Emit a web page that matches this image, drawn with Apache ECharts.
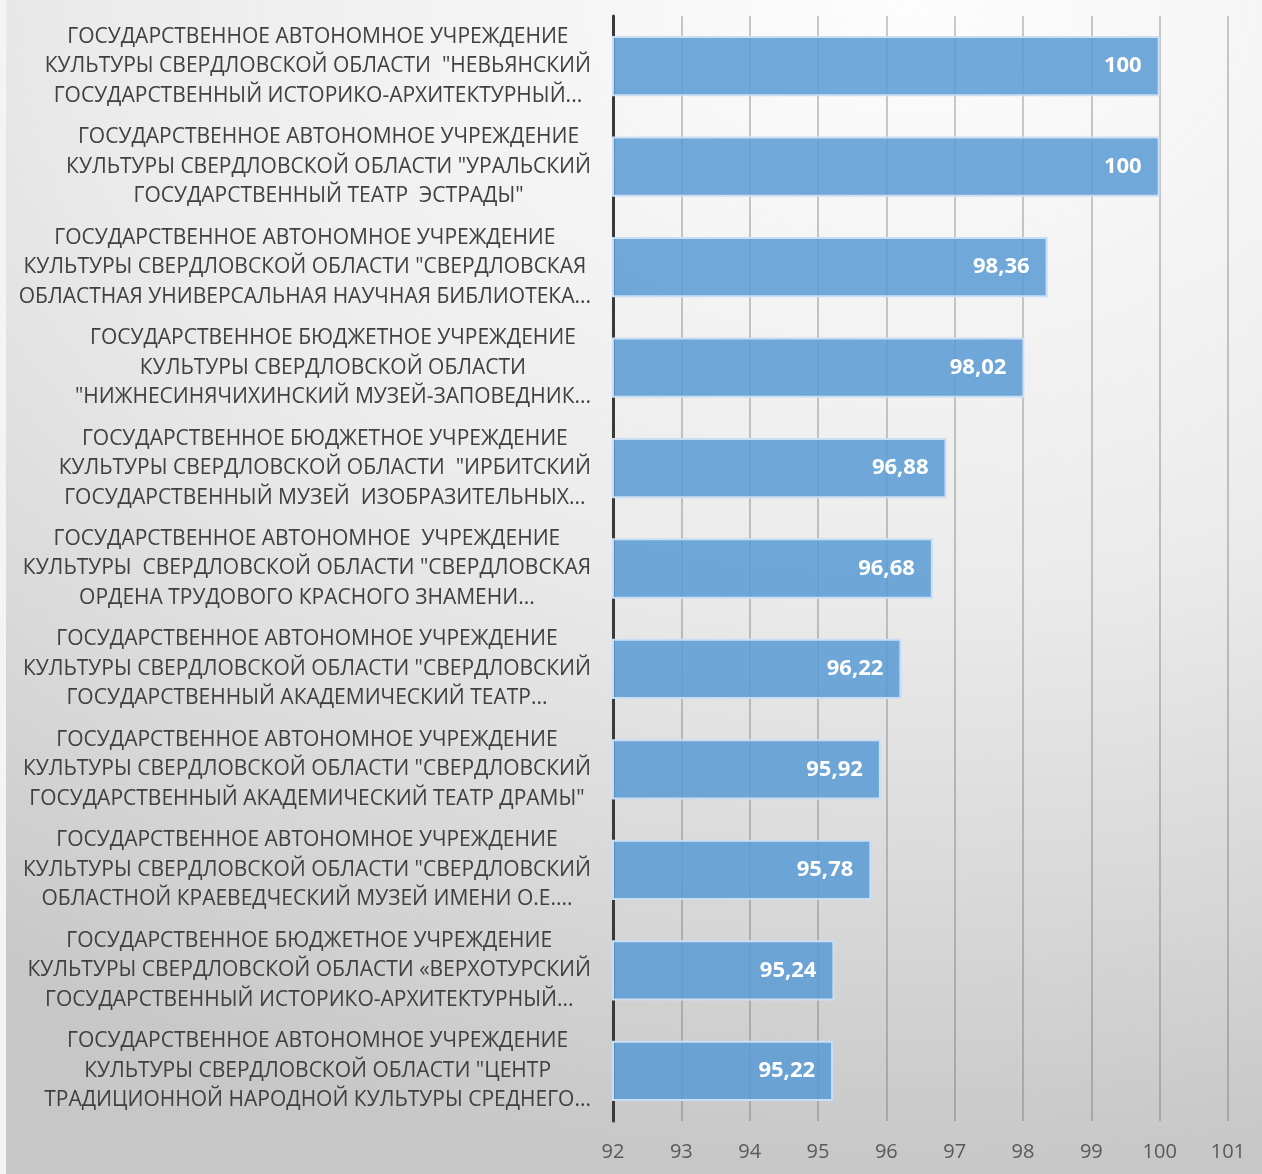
<!DOCTYPE html>
<html><head><meta charset="utf-8">
<script src="https://cdn.jsdelivr.net/npm/echarts@6/dist/echarts.min.js"></script>
<style>
html,body{margin:0;padding:0;background:#f4f4f4;}
#chart{position:absolute;left:6px;top:0;width:1256px;height:1174px;
background:radial-gradient(ellipse 130% 100% at 72% 0%, #fdfdfd 0%, #ebebeb 50%, #d6d6d6 80%, #c7c7c7 100%);}
</style></head>
<body><div id="chart"></div>
<script>
const categories = [
 'ГОСУДАРСТВЕННОЕ АВТОНОМНОЕ УЧРЕЖДЕНИЕ\nКУЛЬТУРЫ СВЕРДЛОВСКОЙ ОБЛАСТИ  "НЕВЬЯНСКИЙ\nГОСУДАРСТВЕННЫЙ ИСТОРИКО-АРХИТЕКТУРНЫЙ...',
 'ГОСУДАРСТВЕННОЕ АВТОНОМНОЕ УЧРЕЖДЕНИЕ\nКУЛЬТУРЫ СВЕРДЛОВСКОЙ ОБЛАСТИ "УРАЛЬСКИЙ\nГОСУДАРСТВЕННЫЙ ТЕАТР  ЭСТРАДЫ"',
 'ГОСУДАРСТВЕННОЕ АВТОНОМНОЕ УЧРЕЖДЕНИЕ\nКУЛЬТУРЫ СВЕРДЛОВСКОЙ ОБЛАСТИ "СВЕРДЛОВСКАЯ\nОБЛАСТНАЯ УНИВЕРСАЛЬНАЯ НАУЧНАЯ БИБЛИОТЕКА...',
 'ГОСУДАРСТВЕННОЕ БЮДЖЕТНОЕ УЧРЕЖДЕНИЕ\nКУЛЬТУРЫ СВЕРДЛОВСКОЙ ОБЛАСТИ\n"НИЖНЕСИНЯЧИХИНСКИЙ МУЗЕЙ-ЗАПОВЕДНИК...',
 'ГОСУДАРСТВЕННОЕ БЮДЖЕТНОЕ УЧРЕЖДЕНИЕ\nКУЛЬТУРЫ СВЕРДЛОВСКОЙ ОБЛАСТИ  "ИРБИТСКИЙ\nГОСУДАРСТВЕННЫЙ МУЗЕЙ  ИЗОБРАЗИТЕЛЬНЫХ...',
 'ГОСУДАРСТВЕННОЕ АВТОНОМНОЕ  УЧРЕЖДЕНИЕ\nКУЛЬТУРЫ  СВЕРДЛОВСКОЙ ОБЛАСТИ "СВЕРДЛОВСКАЯ\nОРДЕНА ТРУДОВОГО КРАСНОГО ЗНАМЕНИ...',
 'ГОСУДАРСТВЕННОЕ АВТОНОМНОЕ УЧРЕЖДЕНИЕ\nКУЛЬТУРЫ СВЕРДЛОВСКОЙ ОБЛАСТИ "СВЕРДЛОВСКИЙ\nГОСУДАРСТВЕННЫЙ АКАДЕМИЧЕСКИЙ ТЕАТР...',
 'ГОСУДАРСТВЕННОЕ АВТОНОМНОЕ УЧРЕЖДЕНИЕ\nКУЛЬТУРЫ СВЕРДЛОВСКОЙ ОБЛАСТИ "СВЕРДЛОВСКИЙ\nГОСУДАРСТВЕННЫЙ АКАДЕМИЧЕСКИЙ ТЕАТР ДРАМЫ"',
 'ГОСУДАРСТВЕННОЕ АВТОНОМНОЕ УЧРЕЖДЕНИЕ\nКУЛЬТУРЫ СВЕРДЛОВСКОЙ ОБЛАСТИ "СВЕРДЛОВСКИЙ\nОБЛАСТНОЙ КРАЕВЕДЧЕСКИЙ МУЗЕЙ ИМЕНИ О.Е....',
 'ГОСУДАРСТВЕННОЕ БЮДЖЕТНОЕ УЧРЕЖДЕНИЕ\nКУЛЬТУРЫ СВЕРДЛОВСКОЙ ОБЛАСТИ «ВЕРХОТУРСКИЙ\nГОСУДАРСТВЕННЫЙ ИСТОРИКО-АРХИТЕКТУРНЫЙ...',
 'ГОСУДАРСТВЕННОЕ АВТОНОМНОЕ УЧРЕЖДЕНИЕ\nКУЛЬТУРЫ СВЕРДЛОВСКОЙ ОБЛАСТИ "ЦЕНТР\nТРАДИЦИОННОЙ НАРОДНОЙ КУЛЬТУРЫ СРЕДНЕГО...'
];
const values = [100, 100, 98.36, 98.02, 96.88, 96.68, 96.22, 95.92, 95.78, 95.24, 95.22];
const xMin = 92, xMax = 101, xStep = 1;

const chart = echarts.init(document.getElementById('chart'), null, {renderer: 'canvas'});
const FONT = '"Open Sans", "DejaVu Sans", sans-serif';
chart.setOption({
  backgroundColor: 'transparent',
  animation: false,
  grid: {left: 607, right: 34, top: 16, bottom: 53, containLabel: false},
  xAxis: {
    type: 'value', min: xMin, max: xMax, interval: xStep,
    axisLine: {show: false}, axisTick: {show: false},
    splitLine: {show: true, lineStyle: {color: 'rgba(90,90,90,0.42)', width: 1.5}},
    axisLabel: {color: '#595959', fontSize: 20, fontFamily: FONT, margin: 21}
  },
  yAxis: {
    type: 'category', data: categories, inverse: true,
    axisLine: {show: true, lineStyle: {color: '#3a3a3a', width: 3}},
    axisTick: {show: false},
    axisLabel: {
      interval: 0, align: 'right', margin: 22,
      formatter: v => v.split('\n').map(l => '{c|' + l + '}').join('\n'),
      rich: {c: {align: 'center', fontSize: 21, lineHeight: 29.5, fontFamily: FONT, color: '#404040'}}
    }
  },
  series: [{
    type: 'bar', data: values, barCategoryGap: '40%',
    itemStyle: {color: 'rgba(91,155,213,0.86)', borderColor: '#c9def2', borderWidth: 2},
    label: {
      show: true, position: 'insideRight', distance: 18,
      color: '#ffffff', fontWeight: 'bold', fontSize: 22, fontFamily: FONT,
      formatter: p => String(p.value).replace('.', ',')
    }
  }]
});
</script></body></html>
